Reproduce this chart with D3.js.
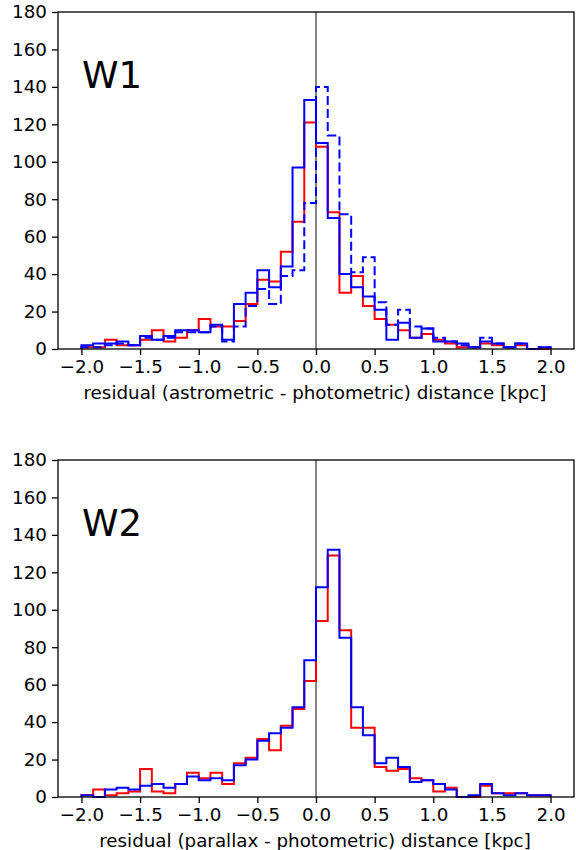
<!DOCTYPE html>
<html lang="en">
<head>
<meta charset="UTF-8">
<title>Distance residuals</title>
<style>
  body { margin: 0; background: #fff; }
  svg text { font-family: "DejaVu Sans", sans-serif; fill: #000; }
</style>
</head>
<body>
<div id="chart"></div>
<script src="https://d3js.org/d3.v7.min.js"></script>
<script>
// bins: 40 bins of 0.1 kpc from -2.0 to 2.0
const BIN_LO = -2.0;
const BIN_W = 0.1;
const X_TICKS = [-2.0, -1.5, -1.0, -0.5, 0.0, 0.5, 1.0, 1.5, 2.0];
const Y_TICKS = [0, 20, 40, 60, 80, 100, 120, 140, 160, 180];

// panel W1
const w1Red    = [1,1,5,2,2,5,10,4,6,10,16,12,12,15,24,37,36,52,68,121,108,73,30,39,23,16,13,10,6,8,5,3,1,1,3,2,1,2,0,0];
const w1Blue   = [2,3,3,4,2,7,5,7,10,10,9,13,5,24,30,42,33,44,97,133,110,70,40,33,28,21,5,14,6,11,4,4,3,1,4,3,1,3,0,1];
const w1Dashed = [1,1,2,3,2,6,5,6,9,9,9,12,4,12,23,32,24,39,42,78,140,114,72,41,49,25,13,21,12,11,6,4,2,1,6,3,1,3,0,1];

// panel W2
const w2Red  = [1,4,1,2,3,15,3,2,7,13,10,13,7,18,21,31,25,38,47,62,94,129,89,37,37,16,14,15,10,9,3,5,0,0,6,2,2,2,1,1];
const w2Blue = [1,0,4,5,4,6,7,5,7,11,9,10,9,17,20,30,34,37,48,73,112,132,85,48,33,18,21,16,8,9,7,4,0,1,7,2,1,2,1,1];

const W = 576, H = 850;
const LEFT = 58, RIGHT = 574;
const FONT = 18.3;

const svg = d3.select("#chart").append("svg")
  .attr("width", W).attr("height", H);

const x = d3.scaleLinear().domain([-2.2, 2.2]).range([LEFT, RIGHT]);

function fmt(v) {
  return d3.format(".1f")(v).replace("-", "\u2212");
}

function drawPanel(top, bottom, label, xlabel, series) {
  const y = d3.scaleLinear().domain([0, 180]).range([bottom, top]);
  const g = svg.append("g");

  // zero line
  g.append("line")
    .attr("x1", x(0)).attr("x2", x(0))
    .attr("y1", top).attr("y2", bottom)
    .attr("stroke", "#333").attr("stroke-width", 1.2);

  const line = d3.line()
    .x(d => x(d[0])).y(d => y(d[1]))
    .curve(d3.curveStepAfter);

  series.forEach(s => {
    const pts = [[BIN_LO, 0]];
    s.values.forEach((v, i) => pts.push([BIN_LO + i * BIN_W, v]));
    const end = BIN_LO + s.values.length * BIN_W;
    pts.push([end, s.values[s.values.length - 1]]);
    pts.push([end, 0]);
    g.append("path")
      .attr("d", line(pts))
      .attr("fill", "none")
      .attr("stroke", s.color)
      .attr("stroke-width", 2)
      .attr("stroke-dasharray", s.dash || null);
  });

  // axes
  const ax = g.append("g")
    .attr("transform", `translate(0,${bottom})`)
    .call(d3.axisBottom(x).tickValues(X_TICKS).tickFormat(fmt)
      .tickSize(6).tickPadding(5).tickSizeOuter(0));
  const ay = g.append("g")
    .attr("transform", `translate(${LEFT},0)`)
    .call(d3.axisLeft(y).tickValues(Y_TICKS)
      .tickSize(6).tickPadding(5).tickSizeOuter(0));
  [ax, ay].forEach(a => {
    a.select(".domain").remove();
    a.selectAll(".tick line").attr("stroke", "#000").attr("stroke-width", 1.3);
    a.selectAll(".tick text")
      .attr("font-family", "DejaVu Sans, sans-serif")
      .attr("font-size", FONT).attr("fill", "#000");
  });

  // frame
  g.append("rect")
    .attr("x", LEFT).attr("y", top)
    .attr("width", RIGHT - LEFT).attr("height", bottom - top)
    .attr("fill", "none").attr("stroke", "#000").attr("stroke-width", 1.3);

  g.append("text")
    .attr("x", 82).attr("y", top + 76)
    .attr("font-size", 37)
    .text(label);

  g.append("text")
    .attr("x", (LEFT + RIGHT) / 2 - 1).attr("y", bottom + 50)
    .attr("text-anchor", "middle")
    .attr("font-size", FONT)
    .text(xlabel);
}

drawPanel(12, 349, "W1", "residual (astrometric - photometric) distance [kpc]", [
  { values: w1Red, color: "#ff0000" },
  { values: w1Blue, color: "#0000ff" },
  { values: w1Dashed, color: "#0000ff", dash: "9,4" }
]);

drawPanel(460, 797, "W2", "residual (parallax - photometric) distance [kpc]", [
  { values: w2Red, color: "#ff0000" },
  { values: w2Blue, color: "#0000ff" }
]);
</script>
</body>
</html>
